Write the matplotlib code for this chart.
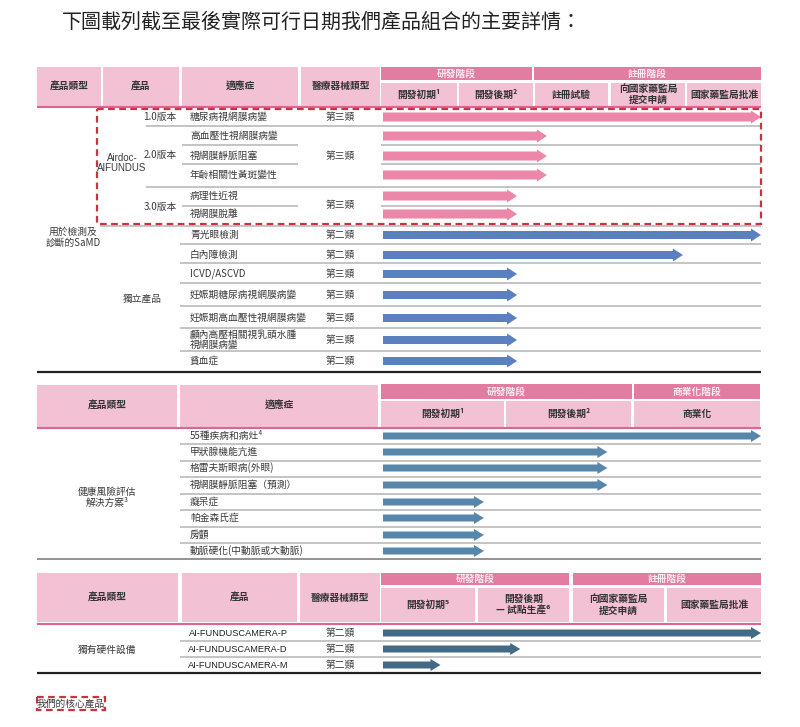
import matplotlib
matplotlib.use("Agg")
import matplotlib.pyplot as plt
from matplotlib.patches import Rectangle
import numpy as np

plt.rcParams['font.family'] = ['Noto Sans CJK TC', 'DejaVu Sans']

# ---------------- data ----------------
title = '下圖載列截至最後實際可行日期我們產品組合的主要詳情：'

# Table 1
t1_headers = ['產品類型', '產品', '適應症', '醫療器械類型']
t1_groups = ['研發階段', '註冊階段']
t1_stages = ['開發初期¹', '開發後期²', '註冊試驗', '向國家藥監局\n提交申請', '國家藥監局批准']
t1_indications = ['糖尿病視網膜病變', '高血壓性視網膜病變', '視網膜靜脈阻塞', '年齡相關性黃斑變性',
                  '病理性近視', '視網膜脫離', '青光眼檢測', '白內障檢測', 'ICVD/ASCVD',
                  '妊娠期糖尿病視網膜病變', '妊娠期高血壓性視網膜病變',
                  '顱內高壓相關視乳頭水腫\n視網膜病變', '貧血症']
t1_device = ['第三類', '第三類', '第三類', '第二類', '第二類', '第三類', '第三類', '第三類', '第三類', '第二類']
t1_versions = ['1.0版本', '2.0版本', '3.0版本']
t1_progress = [5.0, 2.17, 2.17, 2.17, 1.78, 1.78, 5.0, 3.96, 1.78, 1.78, 1.78, 1.78, 1.78]
t1_product = 'Airdoc-\nAIFUNDUS'
t1_category = '用於檢測及\n診斷的SaMD'
t1_standalone = '獨立產品'

# Table 2
t2_headers = ['產品類型', '適應症']
t2_groups = ['研發階段', '商業化階段']
t2_stages = ['開發初期¹', '開發後期²', '商業化']
t2_indications = ['55種疾病和病灶⁴', '甲狀腺機能亢進', '格雷夫斯眼病(外眼)', '視網膜靜脈阻塞（預測）',
                  '癡呆症', '帕金森氏症', '房顫', '動脈硬化(中動脈或大動脈)']
t2_progress = [3.0, 1.8, 1.8, 1.8, 0.83, 0.83, 0.83, 0.83]
t2_category = '健康風險評估\n解決方案³'

# Table 3
t3_headers = ['產品類型', '產品', '醫療器械類型']
t3_groups = ['研發階段', '註冊階段']
t3_stages = ['開發初期⁵', '開發後期\n— 試點生產⁶', '向國家藥監局\n提交申請', '國家藥監局批准']
t3_products = ['AI-FUNDUSCAMERA-P', 'AI-FUNDUSCAMERA-D', 'AI-FUNDUSCAMERA-M']
t3_device = ['第二類', '第二類', '第二類']
t3_progress = [4.0, 1.46, 0.62]
t3_category = '獨有硬件設備'
footnote = '我們的核心產品'

# ---------------- style ----------------
LIGHT = '#f2c1d4'
BAND = '#e27ca0'
PLINE = '#e0648e'
GRID = '#b4b4b4'
TXT = '#3a3a3a'
RED = '#c9323f'
FS = 7

fig = plt.figure(figsize=(8.0, 7.27), dpi=100)
ax = fig.add_axes([0, 0, 1, 1])
ax.set_xlim(0, 800)
ax.set_ylim(727, 0)
ax.axis('off')


def cell(x0, x1, y0, y1, color, text=None, tc='#333333', bold=True, fs=FS):
    ax.add_patch(Rectangle((x0, y0), x1 - x0, y1 - y0, facecolor=color, edgecolor='none'))
    if text:
        ax.text((x0 + x1) / 2, (y0 + y1) / 2, text, ha='center', va='center', fontsize=fs,
                color=tc, fontweight='bold' if bold else 'normal', linespacing=1.15)


def hline(y, x0, x1, color=GRID, lw=1.1):
    ax.plot([x0, x1], [y, y], color=color, lw=lw, solid_capstyle='butt')


def arrows(ys, progress, bounds, color, width=8, hw=13, hl=10):
    xs = np.interp(progress, np.arange(len(bounds)), bounds)
    for y, xe in zip(ys, xs):
        x0 = 383
        ax.arrow(x0, y, xe - x0, 0, width=width, head_width=hw, head_length=hl,
                 length_includes_head=True, facecolor=color, edgecolor='none')


# title
ax.text(62, 22, title, fontsize=14.4, color='#222222', ha='left', va='center')

# ---------------- Table 1 ----------------
hx = [(37, 101), (103, 179), (182, 298), (301, 380)]
for (a, b), t in zip(hx, t1_headers):
    cell(a, b, 67, 106, LIGHT, t)
cell(381, 532, 67, 80, BAND, t1_groups[0], tc='#fbeaf0')
cell(534, 761, 67, 80, BAND, t1_groups[1], tc='#fbeaf0')
sx1 = [(381, 457), (459, 533), (535, 608), (611, 685), (687, 761)]
for (a, b), t in zip(sx1, t1_stages):
    cell(a, b, 83, 106, LIGHT, t)
hline(107, 37, 761, PLINE, 1.5)

ys1 = [117, 136, 156, 175, 196, 214, 235, 255, 274, 295, 318, 340, 361]
for y, t in zip(ys1, t1_indications):
    ax.text(190, y, t, fontsize=FS, color=TXT, ha='left', va='center', linespacing=1.05)
dev_y1 = [117, 156, 205, 235, 255, 274, 295, 318, 340, 361]
for y, t in zip(dev_y1, t1_device):
    ax.text(340, y, t, fontsize=FS, color=TXT, ha='center', va='center')
for y, t in zip([117, 155, 207], t1_versions):
    ax.text(160, y, t, fontsize=FS, color=TXT, ha='center', va='center')
ax.text(122, 163, t1_product, fontsize=FS, color=TXT, ha='center', va='center',
        family=['Liberation Sans', 'DejaVu Sans'], linespacing=1.1)
ax.text(73, 237, t1_category, fontsize=FS, color=TXT, ha='center', va='center', linespacing=1.1)
ax.text(142, 299, t1_standalone, fontsize=FS, color=TXT, ha='center', va='center')

hline(126, 146, 761)
for y in (145, 164, 206):
    hline(y, 182, 298)
    hline(y, 381, 761)
hline(187, 146, 761)
hline(226, 100, 761)
for y in (244, 263, 283, 306, 328, 351):
    hline(y, 180, 761)
hline(372, 37, 761, '#222222', 1.6)

b1 = [381, 457, 534, 610, 686, 761]
arrows(ys1[:6], t1_progress[:6], b1, '#ec87aa', width=9)
arrows(ys1[6:], t1_progress[6:], b1, '#5a80bf', width=8)

ax.add_patch(Rectangle((97, 109), 761 - 97, 224 - 109, facecolor='none', edgecolor=RED,
                       lw=1.6, linestyle=(0, (3, 2)), zorder=5))

# ---------------- Table 2 ----------------
for (a, b), t in zip([(37, 177), (180, 378)], t2_headers):
    cell(a, b, 385, 427, LIGHT, t)
cell(381, 632, 384, 399, BAND, t2_groups[0], tc='#fbeaf0')
cell(634, 760, 384, 399, BAND, t2_groups[1], tc='#fbeaf0')
for (a, b), t in zip([(381, 504), (506, 631), (634, 760)], t2_stages):
    cell(a, b, 401, 427, LIGHT, t)
hline(428, 37, 761, PLINE, 1.5)

ys2 = [436, 452, 468, 485, 502, 518, 535, 551]
for y, t in zip(ys2, t2_indications):
    ax.text(190, y, t, fontsize=FS, color=TXT, ha='left', va='center')
ax.text(107, 497, t2_category, fontsize=FS, color=TXT, ha='center', va='center', linespacing=1.1)
for y in (444, 461, 477, 494, 510, 527, 543):
    hline(y, 180, 761)
hline(559, 37, 761, '#8a8a8a', 1.3)
arrows(ys2, t2_progress, [381, 505, 633, 761], '#5687aa', width=7, hw=12)

# ---------------- Table 3 ----------------
for (a, b), t in zip([(37, 178), (182, 297), (300, 380)], t3_headers):
    cell(a, b, 573, 622, LIGHT, t)
cell(381, 569, 573, 585, BAND, t3_groups[0], tc='#fbeaf0')
cell(573, 761, 573, 585, BAND, t3_groups[1], tc='#fbeaf0')
for (a, b), t in zip([(381, 475), (478, 569), (573, 664), (667, 761)], t3_stages):
    cell(a, b, 588, 622, LIGHT, t)
hline(624, 37, 761, PLINE, 1.5)

ys3 = [633, 649, 665]
for y, t, d in zip(ys3, t3_products, t3_device):
    ax.text(238, y, t, fontsize=6.7, color='#222222', ha='center', va='center',
            family=['Liberation Sans', 'DejaVu Sans'])
    ax.text(340, y, d, fontsize=FS, color=TXT, ha='center', va='center')
ax.text(107, 650, t3_category, fontsize=FS, color=TXT, ha='center', va='center')
for y in (641, 657):
    hline(y, 180, 761)
hline(673, 37, 761, '#222222', 1.6)
arrows(ys3, t3_progress, [381, 477, 571, 666, 761], '#436a85', width=7, hw=12)

# footnote
ax.add_patch(Rectangle((37, 697), 68, 13, facecolor='none', edgecolor=RED,
                       lw=1.6, linestyle=(0, (3, 2))))
ax.text(71, 703.5, footnote, fontsize=FS, color=TXT, ha='center', va='center')

fig.savefig('out.png', dpi=100)
